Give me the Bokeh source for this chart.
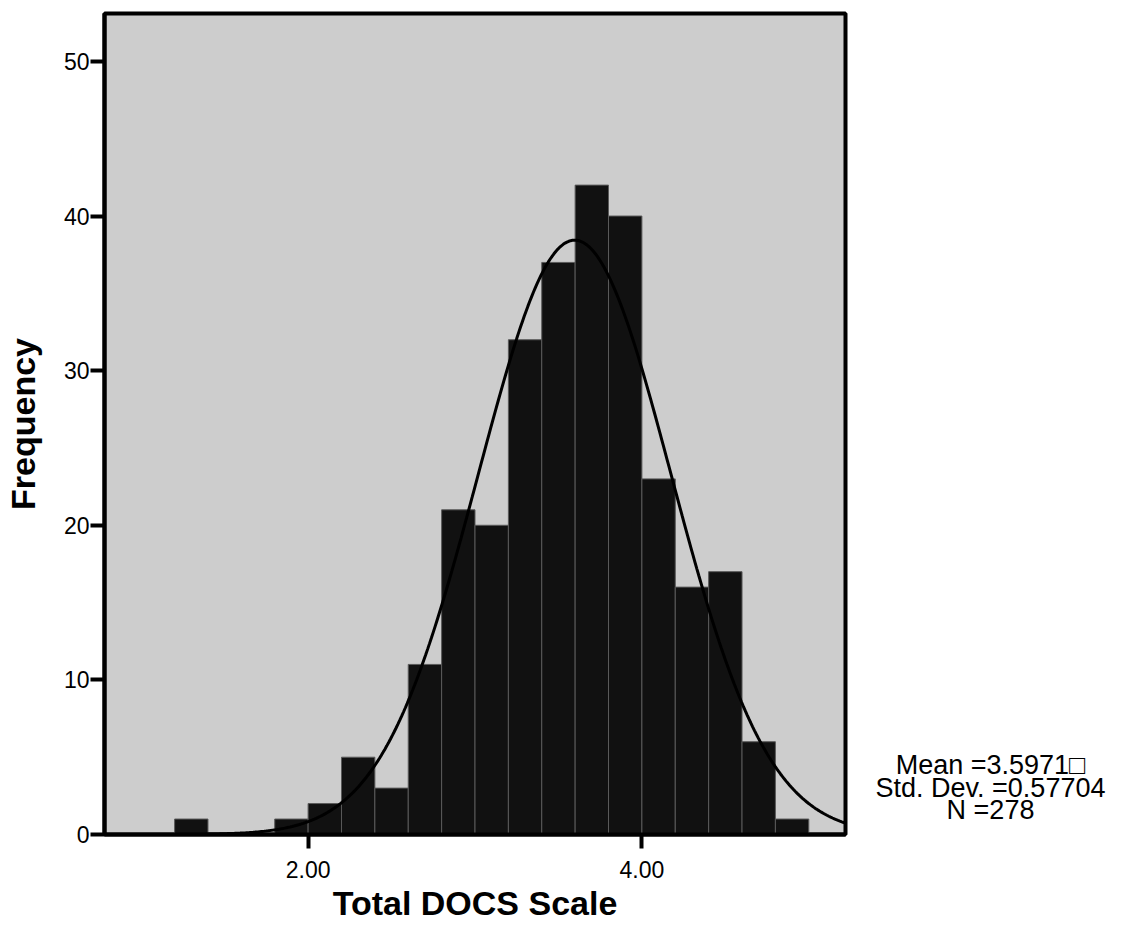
import numpy as np
from bokeh.plotting import figure
from bokeh.layouts import row
from bokeh.models import Range1d, FixedTicker, Label, NumeralTickFormatter, ColumnDataSource
from bokeh.embed import file_html
from bokeh.resources import INLINE

# ---- data ----
bin_starts = [1.2, 1.4, 1.6, 1.8, 2.0, 2.2, 2.4, 2.6, 2.8, 3.0, 3.2, 3.4, 3.6, 3.8, 4.0, 4.2, 4.4, 4.6, 4.8]
counts     = [1,   0,   0,   1,   2,   5,   3,   11,  21,  20,  32,  37,  42,  40,  23,  16,  17,  6,   1]
bin_width = 0.2
MEAN = 3.5971
SD = 0.57704
N = 278
x_ticks = [2.0, 4.0]
y_ticks = [0, 10, 20, 30, 40, 50]
stats_lines = ["Mean =3.5971\u25a1", "Std. Dev. =0.57704", "N =278"]

X0, X1 = 0.78, 5.22
Y0, Y1 = 0.0, 53.1

FONT = "Liberation Sans"
H = 930
yr = Range1d(Y0, Y1)

p = figure(width=848, height=H, output_backend="svg", toolbar_location=None,
           x_range=Range1d(X0, X1), y_range=yr,
           min_border_left=99, min_border_right=3, min_border_top=13, min_border_bottom=96)

p.background_fill_color = "#cdcdcd"
p.border_fill_color = "white"
p.outline_line_color = "black"
p.outline_line_width = 4
p.grid.visible = False

src = ColumnDataSource(dict(
    left=bin_starts,
    right=[b + bin_width for b in bin_starts],
    top=counts,
    bottom=[0] * len(counts),
))
p.quad(left="left", right="right", top="top", bottom="bottom", source=src,
       fill_color="#111111", line_color="#5a5a5a", line_width=1)

# fitted normal curve from the stated mean / sd / N
xs = np.linspace(X0, X1, 400)
ys = N * bin_width / (SD * np.sqrt(2 * np.pi)) * np.exp(-0.5 * ((xs - MEAN) / SD) ** 2)
p.line(xs, ys, line_color="black", line_width=3)

for ax in (p.xaxis[0], p.yaxis[0]):
    ax.axis_line_color = "black"
    ax.axis_line_width = 4
    ax.major_tick_line_color = "black"
    ax.major_tick_line_width = 4
    ax.major_tick_out = 14
    ax.major_tick_in = 0
    ax.minor_tick_line_color = None
    ax.major_label_text_font = FONT
    ax.major_label_text_font_size = "23px"
    ax.major_label_text_color = "black"
    ax.axis_label_text_font = FONT
    ax.axis_label_text_font_style = "bold"
    ax.axis_label_text_font_size = "34px"
    ax.axis_label_text_color = "black"

p.xaxis.ticker = FixedTicker(ticks=x_ticks)
p.xaxis.formatter = NumeralTickFormatter(format="0.00")
p.xaxis.axis_label = "Total DOCS Scale"
p.xaxis.major_label_standoff = 12
p.xaxis.axis_label_standoff = 3

p.yaxis.ticker = FixedTicker(ticks=y_ticks)
p.yaxis.axis_label = "Frequency"
p.yaxis.major_label_standoff = 1
p.yaxis.axis_label_standoff = 19

# side panel with the summary statistics
s = figure(width=262, height=H, output_backend="svg", toolbar_location=None,
           x_range=Range1d(0, 262), y_range=yr,
           min_border_left=0, min_border_right=0, min_border_top=13, min_border_bottom=96)
s.axis.visible = False
s.grid.visible = False
s.outline_line_color = None
s.background_fill_color = "white"
s.border_fill_color = "white"

for line, yv in zip(stats_lines, [4.47, 2.98, 1.56]):
    s.add_layout(Label(x=142, y=yv, text=line, text_align="center", text_baseline="alphabetic",
                       text_font=FONT, text_font_size="27px", text_color="black"))

layout = row(p, s, spacing=0)
open("out.html", "w").write(file_html(layout, INLINE))
